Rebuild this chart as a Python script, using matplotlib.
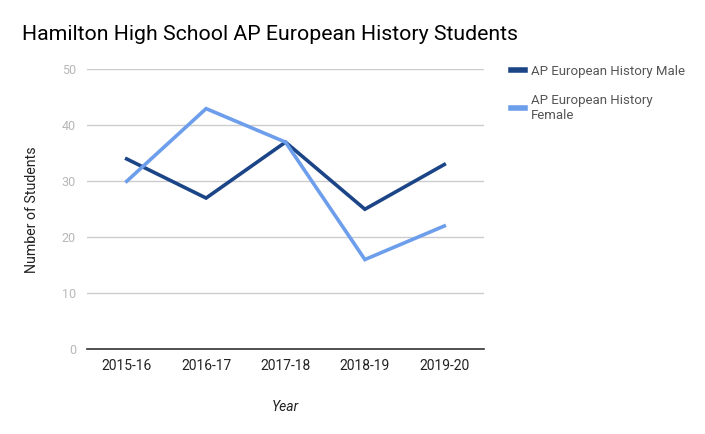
import matplotlib.pyplot as plt

years = ["2015-16", "2016-17", "2017-18", "2018-19", "2019-20"]
male = [34, 27, 37, 25, 33]
female = [30, 43, 37, 16, 22]
yticks = [0, 10, 20, 30, 40, 50]

plt.rcParams["font.family"] = ["Roboto", "DejaVu Sans"]

fig = plt.figure(figsize=(7.05, 4.34), dpi=100)
ax = fig.add_axes([0.1234, 0.1959, 0.5631, 0.644])

x = list(range(len(years)))
ax.plot(x, male, color="#1c4587", lw=2.6, label="AP European History Male",
        solid_joinstyle="miter", zorder=3)
ax.plot(x, female, color="#6d9eeb", lw=2.6, label="AP European History\nFemale",
        solid_joinstyle="miter", zorder=3)

ax.set_xlim(-0.5, len(years) - 0.5)
ax.set_ylim(0, 50)
ax.set_yticks(yticks)
ax.set_xticks(x)
ax.set_xticklabels(years, fontsize=10, color="#222222")
ax.tick_params(axis="y", labelsize=9, labelcolor="#b7b7b7", length=0, pad=8)
ax.tick_params(axis="x", length=0, pad=7)
ax.grid(axis="y", color="#cccccc", lw=1)
ax.set_axisbelow(True)
for s in ["top", "right", "left"]:
    ax.spines[s].set_visible(False)
ax.spines["bottom"].set_color("#333333")
ax.spines["bottom"].set_linewidth(1.2)
ax.spines["bottom"].set_zorder(4)

ax.set_ylabel("Number of Students", fontsize=10.2, color="#222222", labelpad=16)
ax.set_xlabel("Year", fontsize=10, color="#222222", style="italic", labelpad=20)

fig.text(0.031, 0.92, "Hamilton High School AP European History Students",
         fontsize=15.3, color="#000000", va="center")

leg = fig.legend(loc="upper left", bbox_to_anchor=(0.718, 0.863), frameon=False,
                 fontsize=9.5, handlelength=1.05, handletextpad=0.45,
                 labelspacing=1.2, borderaxespad=0)
for t in leg.get_texts():
    t.set_color("#555555")
for h in leg.get_lines():
    h.set_linewidth(4)

fig.savefig("out.png", dpi=100)
